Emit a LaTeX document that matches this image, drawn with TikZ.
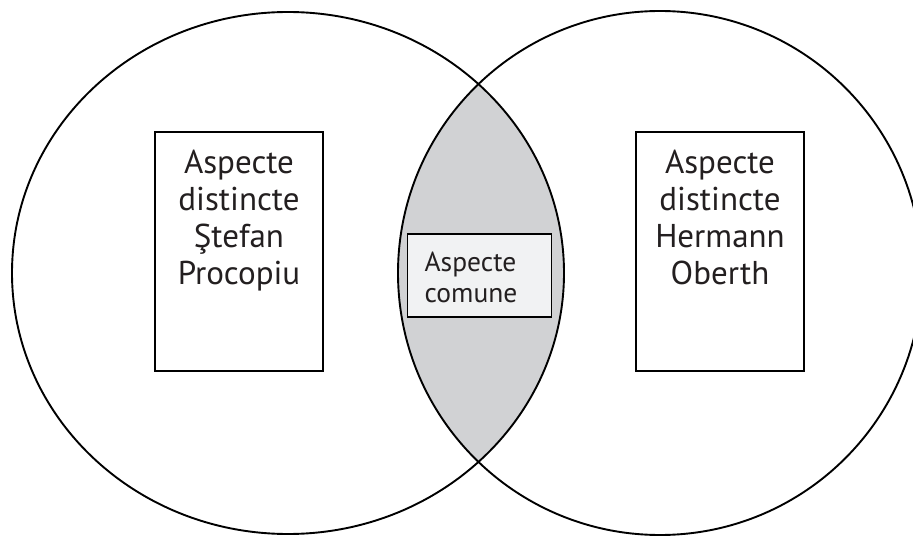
\documentclass[tikz,border=0pt]{standalone}
\usepackage{fontspec}
\setmainfont{PT Sans}
\usetikzlibrary{positioning}
\definecolor{lensgray}{HTML}{D1D2D4}
\definecolor{boxgray}{HTML}{F1F2F3}
\definecolor{inkblack}{HTML}{231F20}
\tikzset{
	aspectbox/.style = {draw, rectangle, line width = 1.6pt, fill = white, minimum width = 168, minimum height = 239},
	commonbox/.style = {draw, rectangle, line width = 1.6pt, fill = boxgray, minimum width = 144, minimum height = 83},
	bigtext/.style = {inner sep = 0, align = center, text = inkblack, font = \fontsize{33}{37}\selectfont},
	smalltext/.style = {inner sep = 0, align = left, text = inkblack, font = \fontsize{27.5}{31}\selectfont}
}

\begin{document}
\begin{tikzpicture}[x = 1pt, y = -1pt, line width = 1.9pt]

		\useasboundingbox (0,0) rectangle (913,537);

		\begin{scope}
			\clip (288,273) ellipse [x radius = 276, y radius = 261];
			\fill[lensgray] (660,273) circle [radius = 262];
		\end{scope}
		\draw (288,273) ellipse [x radius = 276, y radius = 261];
		\draw (660,273) circle [radius = 262];

		\node[aspectbox] (procopiu) at (239,251.5) {};
		\node[aspectbox] (oberth) at (720,251.5) {};
		\node[commonbox] (comune) at (479.5,275.5) {};

		\node[bigtext, below = 18pt of procopiu.north] (procopiu_txt) {Aspecte\\distincte\\Ştefan\\Procopiu};
		\node[bigtext, below = 18pt of oberth.north] (oberth_txt) {Aspecte\\distincte\\Hermann\\Oberth};
		\node[smalltext, below right = 18pt and 17pt of comune.north west] (comune_txt) {Aspecte\\comune};
	\end{tikzpicture}
\end{document}
